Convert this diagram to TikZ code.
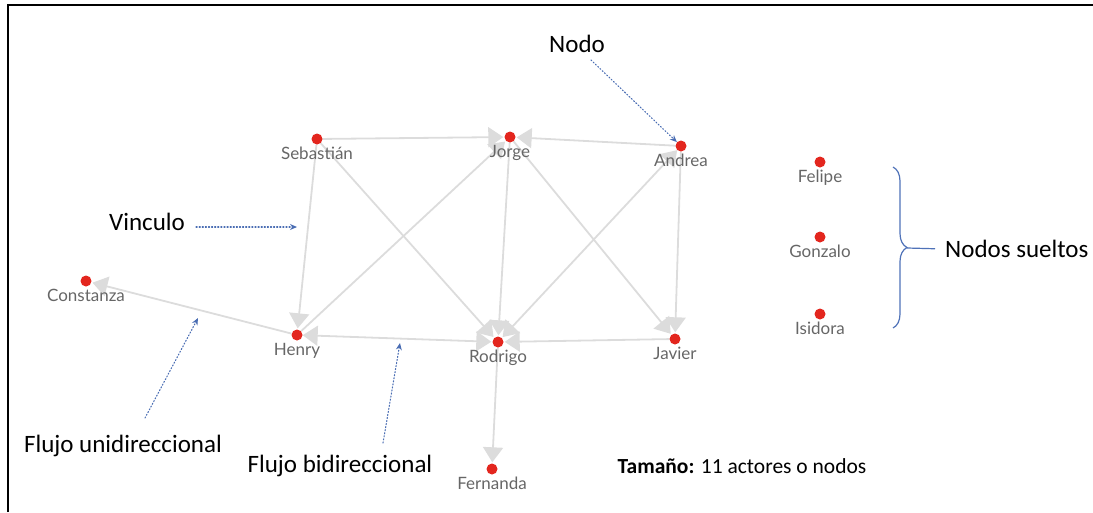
\documentclass[tikz,border=0pt]{standalone}
\usepackage{fontspec}
\setmainfont{Carlito}
\newfontfamily\netfont{Lato}
\usetikzlibrary{arrows.meta,decorations.pathreplacing,backgrounds}
\definecolor{dotred}{HTML}{E3261E}
\definecolor{edgegray}{HTML}{DCDCDC}
\definecolor{labelgray}{HTML}{666666}
\definecolor{notablue}{HTML}{4A6DB3}
\definecolor{bracecol}{HTML}{4F72B8}

\begin{document}
\begin{tikzpicture}[x=1pt, y=-1pt,
  actor/.style={circle, fill=dotred, inner sep=0pt, minimum size=11pt,
    label={[font=\netfont\fontsize{17}{19}\selectfont, text=labelgray, inner sep=0pt, label distance=2pt]below:#1}},
  edge/.style={draw=edgegray, line width=1.8pt, shorten >=1pt,
    -{Triangle[width=20pt,length=15pt]}},
  biedge/.style={edge, {Triangle[width=20pt,length=15pt]}-{Triangle[width=20pt,length=15pt]}},
  note/.style={font=\fontsize{25}{30}\selectfont, text=black, inner sep=1pt},
  nota/.style={draw=notablue, line width=1.1pt, dotted, line cap=round,
    -{Stealth[length=7pt,width=6pt]}}]
  \useasboundingbox (0,0) rectangle (1093,512);
  % frame
  \draw[line width=2pt] (8,512) -- (8,5) -- (1093,5);

  % actors
  \node[actor=Sebastián] (seb) at (317,139) {};
  \node[actor=Jorge] (jor) at (510,137) {};
  \node[actor=Andrea] (andr) at (681,146) {};
  \node[actor=Felipe] (fel) at (820,162) {};
  \node[actor=Gonzalo] (gon) at (820,237) {};
  \node[actor=Isidora] (isi) at (820,314) {};
  \node[actor=Constanza] (con) at (86,281) {};
  \node[actor=Henry] (hen) at (297,335) {};
  \node[actor=Rodrigo] (rod) at (498,342) {};
  \node[actor=Javier] (jav) at (675,339) {};
  \node[actor=Fernanda] (fer) at (492,469) {};

  % links
  \begin{scope}[on background layer]
    \draw[edge] (seb) -- (jor);
    \draw[edge] (andr) -- (jor);
    \draw[edge] (seb) -- (hen);
    \draw[edge] (seb) -- (rod);
    \draw[edge] (hen) -- (jor);
    \draw[edge] (jor) -- (rod);
    \draw[edge] (jor) -- (jav);
    \draw[biedge] (andr) -- (rod);
    \draw[edge] (andr) -- (jav);
    \draw[edge] (jav) -- (rod);
    \draw[biedge] (hen) -- (rod);
    \draw[edge] (hen) -- (con);
    \draw[edge] (rod) -- (fer);
  \end{scope}

  % notes
  \node[note] (nodo) at (577,44) {Nodo};
  \coordinate (nodoS) at (591,60);
  \draw[nota] (nodoS) -- (andr);

  \node[note] (vinc) at (147,222) {Vinculo};
  \coordinate (vincE) at (297,227);
  \draw[nota, shorten <=10pt] (vinc.east |- vincE) -- (vincE);

  \node[note] (uni) at (123,446) {Flujo unidireccional};
  \coordinate (uniE) at (198,318);
  \draw[nota] ([xshift=22pt,yshift=16pt]uni.north) -- (uniE);

  \node[note] (bidi) at (340,466) {Flujo bidireccional};
  \coordinate (bidiE) at (400,343);
  \draw[nota] ([xshift=43pt,yshift=11pt]bidi.north) -- (bidiE);

  \node[note, font=\fontsize{21.5}{26}\selectfont] (tam) at (742,466) {\textbf{Tamaño:} 11 actores o nodos};

  \coordinate (brT) at (893,167);
  \coordinate (brB) at (893,328);
  \draw[bracecol, line width=1.2pt, decorate,
    decoration={brace, amplitude=14pt}] (brT) -- (brB);
  \coordinate (brTip) at (907,248);
  \node[note, anchor=west] (suelt) at (944,249) {Nodos sueltos};
  \draw[bracecol, line width=1.2pt, shorten >=9pt] (brTip) -- (suelt.west);
\end{tikzpicture}
\end{document}
